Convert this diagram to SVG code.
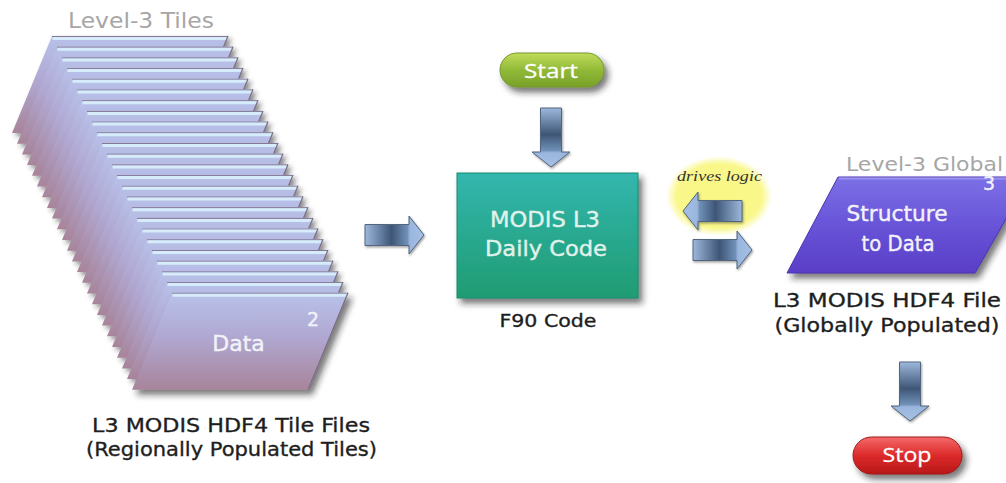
<svg xmlns="http://www.w3.org/2000/svg" xmlns:xlink="http://www.w3.org/1999/xlink" width="1006" height="483" viewBox="0 0 1006 483">
<style>
.lbl{font-family:"DejaVu Sans","Liberation Sans",sans-serif;fill:#1e1e1e;stroke:#1e1e1e;stroke-width:0.35;}
.gray{font-family:"DejaVu Sans","Liberation Sans",sans-serif;fill:#a6a6a6;}
.wt{font-family:"DejaVu Sans","Liberation Sans",sans-serif;fill:#f2f2f8;stroke:#f2f2f8;stroke-width:0.4;}
.btn{font-family:"Open Sans","Noto Sans",sans-serif;fill:#ffffff;stroke:#ffffff;stroke-width:0.3;}
.tile{fill:url(#gTile);}
.tileTop{stroke:#857893;stroke-width:1;fill:none;}
.tileHi{stroke:#d6ecfa;stroke-width:3;fill:none;}
.tileEdge{stroke:#7c6c84;stroke-width:1.2;fill:none;}
.arrow{fill:url(#gArrow);stroke:#52667f;stroke-width:1;}
</style>
<defs>
<linearGradient id="gTile" x1="0" y1="0" x2="0" y2="1">
<stop offset="0" stop-color="#b8c2ea"/>
<stop offset="0.45" stop-color="#b0a8d2"/>
<stop offset="1" stop-color="#a8849a"/>
</linearGradient>
<linearGradient id="gArrow" x1="0" y1="0" x2="1" y2="0">
<stop offset="0" stop-color="#9cb8dc"/>
<stop offset="0.45" stop-color="#3e5676"/>
<stop offset="0.72" stop-color="#7090b8"/>
<stop offset="0.76" stop-color="#9ab6de"/>
<stop offset="1" stop-color="#a6c0e4"/>
</linearGradient>
<linearGradient id="gTeal" x1="0" y1="0" x2="0" y2="1">
<stop offset="0" stop-color="#33b6ae"/>
<stop offset="1" stop-color="#1f9c72"/>
</linearGradient>
<linearGradient id="gGreen" x1="0" y1="0" x2="0" y2="1">
<stop offset="0" stop-color="#c0dc5c"/>
<stop offset="0.5" stop-color="#92ba38"/>
<stop offset="1" stop-color="#78a028"/>
</linearGradient>
<linearGradient id="gRed" x1="0" y1="0" x2="0" y2="1">
<stop offset="0" stop-color="#f46a6a"/>
<stop offset="0.5" stop-color="#dc2a2a"/>
<stop offset="1" stop-color="#b81818"/>
</linearGradient>
<linearGradient id="gPurple" x1="0" y1="0" x2="0" y2="1">
<stop offset="0" stop-color="#7c70e6"/>
<stop offset="0.5" stop-color="#6854d8"/>
<stop offset="1" stop-color="#5a3ec6"/>
</linearGradient>
<radialGradient id="gGlow" cx="0.5" cy="0.5" r="0.5">
<stop offset="0" stop-color="#f9f784"/>
<stop offset="0.8" stop-color="#f9f784" stop-opacity="0.95"/>
<stop offset="1" stop-color="#f9f784" stop-opacity="0"/>
</radialGradient>
<filter id="shTile" x="-20%" y="-20%" width="150%" height="160%">
<feDropShadow dx="3" dy="3" stdDeviation="2.5" flood-color="#2a2a2a" flood-opacity="0.55"/>
</filter>
<filter id="sh" x="-20%" y="-20%" width="150%" height="160%">
<feDropShadow dx="4" dy="5" stdDeviation="3" flood-color="#1a1a1a" flood-opacity="0.6"/>
</filter>
<filter id="shA" x="-20%" y="-30%" width="150%" height="170%">
<feDropShadow dx="1" dy="1.5" stdDeviation="1.2" flood-color="#333" flood-opacity="0.45"/>
</filter>
<g id="tileShape">
<path class="tile" d="M0,0 H176 L136,97 H-40 Z"/>
<path class="tileTop" d="M0,0.5 H176"/>
<path class="tileHi" d="M0.5,2.5 H175"/>
<path class="tileEdge" d="M176,0 L136,97"/>
</g>
<path id="arrowShape" class="arrow" d="M0,-10.5 H44 V-19 L59,0 L44,19 V10.5 H0 Z"/>
</defs>
<rect width="1006" height="483" fill="#ffffff"/>

<g id="tiles">
<text class="gray" x="68" y="28" font-size="21" textLength="146" lengthAdjust="spacingAndGlyphs">Level-3 Tiles</text>
<g filter="url(#shTile)">
<use xlink:href="#tileShape" transform="translate(52,36)"/>
<use xlink:href="#tileShape" transform="translate(57,46.7)"/>
<use xlink:href="#tileShape" transform="translate(62,57.4)"/>
<use xlink:href="#tileShape" transform="translate(67,68.1)"/>
<use xlink:href="#tileShape" transform="translate(72,78.8)"/>
<use xlink:href="#tileShape" transform="translate(77,89.5)"/>
<use xlink:href="#tileShape" transform="translate(82,100.2)"/>
<use xlink:href="#tileShape" transform="translate(87,110.9)"/>
<use xlink:href="#tileShape" transform="translate(92,121.6)"/>
<use xlink:href="#tileShape" transform="translate(97,132.3)"/>
<use xlink:href="#tileShape" transform="translate(102,143)"/>
<use xlink:href="#tileShape" transform="translate(107,153.7)"/>
<use xlink:href="#tileShape" transform="translate(112,164.4)"/>
<use xlink:href="#tileShape" transform="translate(117,175.1)"/>
<use xlink:href="#tileShape" transform="translate(122,185.8)"/>
<use xlink:href="#tileShape" transform="translate(127,196.5)"/>
<use xlink:href="#tileShape" transform="translate(132,207.2)"/>
<use xlink:href="#tileShape" transform="translate(137,217.9)"/>
<use xlink:href="#tileShape" transform="translate(142,228.6)"/>
<use xlink:href="#tileShape" transform="translate(147,239.3)"/>
<use xlink:href="#tileShape" transform="translate(152,250)"/>
<use xlink:href="#tileShape" transform="translate(157,260.7)"/>
<use xlink:href="#tileShape" transform="translate(162,271.4)"/>
<use xlink:href="#tileShape" transform="translate(167,282.1)"/>
</g>
<use xlink:href="#tileShape" transform="translate(172,292.8)" filter="url(#sh)"/>
<text class="wt" x="307" y="326" font-size="19">2</text>
<text class="wt" x="238.5" y="351" font-size="22" text-anchor="middle">Data</text>
<text class="lbl" x="231" y="432" font-size="20" text-anchor="middle" textLength="278" lengthAdjust="spacingAndGlyphs">L3 MODIS HDF4 Tile Files</text>
<text class="lbl" x="231.5" y="456" font-size="20" text-anchor="middle" textLength="291" lengthAdjust="spacingAndGlyphs">(Regionally Populated Tiles)</text>
</g>

<g id="start">
<rect x="500" y="53" width="104" height="34" rx="17" fill="url(#gGreen)" stroke="#74982a" stroke-width="1" filter="url(#sh)"/>
<text class="btn" x="551" y="78" font-size="20" text-anchor="middle" textLength="54" lengthAdjust="spacingAndGlyphs">Start</text>
</g>

<g id="modis">
<rect x="457" y="173" width="181" height="125" fill="url(#gTeal)" stroke="#1a8a70" stroke-width="1" filter="url(#sh)"/>
<text class="wt" x="545" y="227" font-size="22" text-anchor="middle" textLength="110" lengthAdjust="spacingAndGlyphs" style="fill:#e0f2ea;stroke:#e0f2ea">MODIS L3</text>
<text class="wt" x="546" y="256" font-size="22" text-anchor="middle" textLength="122" lengthAdjust="spacingAndGlyphs" style="fill:#e0f2ea;stroke:#e0f2ea">Daily Code</text>
<text class="lbl" x="548" y="327" font-size="18" text-anchor="middle" textLength="97" lengthAdjust="spacingAndGlyphs">F90 Code</text>
</g>

<g id="drives">
<ellipse cx="719" cy="196" rx="53" ry="40" fill="url(#gGlow)"/>
<text x="677" y="181" font-family="'Liberation Serif',serif" font-style="italic" font-size="15" fill="#333" textLength="85" lengthAdjust="spacingAndGlyphs">drives logic</text>
</g>

<g id="global">
<text class="gray" x="846" y="171" font-size="20" textLength="157" lengthAdjust="spacingAndGlyphs">Level-3 Global</text>
<path d="M838,177 H1030 L975,273 H787 Z" fill="url(#gPurple)" stroke="#4a34b0" stroke-width="1" filter="url(#sh)"/>
<path d="M839,178.5 H1028" stroke="#9a92f0" stroke-width="2" fill="none"/>
<text class="wt" x="983" y="190" font-size="19">3</text>
<text class="wt" x="897" y="221" font-size="22" text-anchor="middle" textLength="101" lengthAdjust="spacingAndGlyphs">Structure</text>
<text class="wt" x="898" y="251" font-size="22" text-anchor="middle" textLength="73" lengthAdjust="spacingAndGlyphs">to Data</text>
<text class="lbl" x="887" y="307" font-size="20" text-anchor="middle" textLength="228" lengthAdjust="spacingAndGlyphs">L3 MODIS HDF4 File</text>
<text class="lbl" x="887" y="332" font-size="20" text-anchor="middle" textLength="225" lengthAdjust="spacingAndGlyphs">(Globally Populated)</text>
</g>

<g id="stop">
<rect x="853" y="437" width="109" height="37" rx="18.5" fill="url(#gRed)" stroke="#a01818" stroke-width="1" filter="url(#sh)"/>
<text class="btn" x="907" y="462" font-size="20" text-anchor="middle" textLength="49" lengthAdjust="spacingAndGlyphs">Stop</text>
</g>

<g id="connectors" filter="url(#shA)">
<use xlink:href="#arrowShape" transform="translate(365,235)"/>
<use xlink:href="#arrowShape" transform="translate(551,108) rotate(90)"/>
<use xlink:href="#arrowShape" transform="translate(742,211) rotate(180)"/>
<use xlink:href="#arrowShape" transform="translate(693,250)"/>
<use xlink:href="#arrowShape" transform="translate(910,362) rotate(90)"/>
</g>
</svg>
